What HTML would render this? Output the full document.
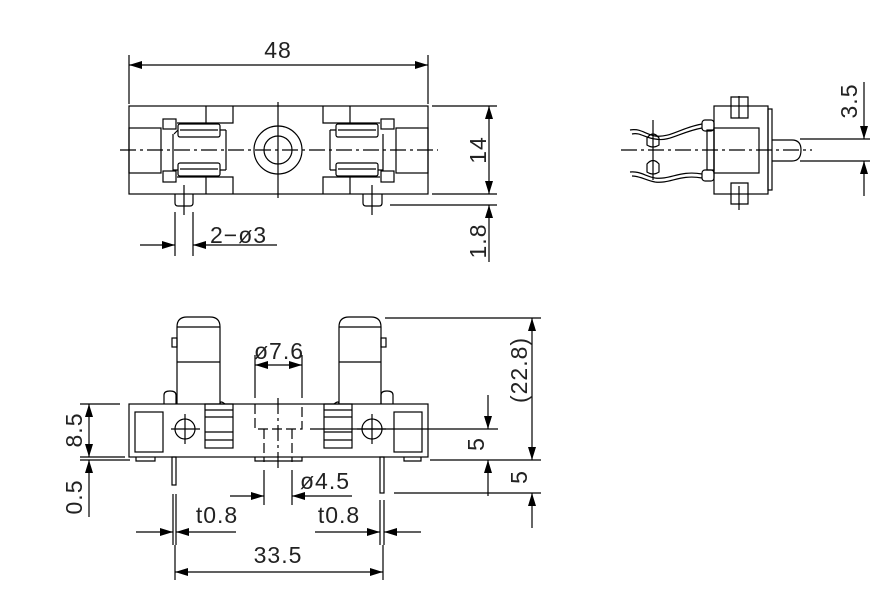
<!DOCTYPE html>
<html><head><meta charset="utf-8"><style>
html,body{margin:0;padding:0;background:#fff;}
svg{display:block;}
text{font-family:"Liberation Sans",sans-serif;font-size:23px;fill:#222;font-weight:normal;letter-spacing:1px;}
</style></head><body>
<svg width="883" height="592" viewBox="0 0 883 592" xmlns="http://www.w3.org/2000/svg">
<defs>
<marker id="a" viewBox="0 0 13 8" refX="13" refY="4" markerWidth="13" markerHeight="8" markerUnits="userSpaceOnUse" orient="auto-start-reverse"><path d="M0,0L13,4L0,8z" fill="#000"/></marker>
</defs>
<g fill="none" stroke="#000" stroke-width="1.2">
<rect x="129" y="106" width="299" height="88"/>
<rect x="129" y="128" width="32" height="45"/>
<rect x="396" y="128" width="32" height="45"/>
<rect x="163" y="119" width="13" height="10"/><rect x="163" y="171" width="13" height="11"/>
<rect x="381" y="119" width="13" height="10"/><rect x="381" y="171" width="13" height="11"/>
<path d="M206,106V123H233V106M206,194V177H233V194M206,123H177M206,177H177"/>
<path d="M323,106V123H350V106M323,194V177H350V194M350,123H380M350,177H380"/>
<rect x="178" y="124" width="42" height="13" rx="2"/><line x1="180" y1="130" x2="218" y2="130"/>
<rect x="178" y="163" width="42" height="13" rx="2"/><line x1="180" y1="169" x2="218" y2="169"/>
<rect x="336" y="124" width="42" height="13" rx="2"/><line x1="338" y1="130" x2="376" y2="130"/>
<rect x="336" y="163" width="42" height="13" rx="2"/><line x1="338" y1="169" x2="376" y2="169"/>
<path d="M173,134V170H178M226,130V170M220,130H226M220,170H226M178,130L174,134"/>
<path d="M383,134V170H378M330,130V170M336,130H330M336,170H330"/>
<circle cx="278" cy="150" r="24"/><circle cx="278" cy="150" r="14"/>
<path d="M175,194V203Q175,206 178,206H190Q193,206 193,203V194"/>
<path d="M363,194V203Q363,206 366,206H379Q382,206 382,203V194"/>
<line x1="184" y1="185" x2="184" y2="215"/><line x1="372" y1="185" x2="372" y2="215"/>
<line x1="120" y1="150" x2="438" y2="150" stroke-dasharray="16,4,3,4"/>
<line x1="278" y1="102" x2="278" y2="198"/>
<line x1="129" y1="55" x2="129" y2="104"/><line x1="428" y1="55" x2="428" y2="104"/>
<line x1="129" y1="65" x2="428" y2="65" marker-start="url(#a)" marker-end="url(#a)"/>
<line x1="432" y1="106" x2="497" y2="106"/><line x1="432" y1="194" x2="497" y2="194"/>
<line x1="390" y1="205" x2="497" y2="205"/>
<line x1="489" y1="106" x2="489" y2="194" marker-start="url(#a)" marker-end="url(#a)"/>
<line x1="489" y1="262" x2="489" y2="205" marker-end="url(#a)"/>
<line x1="175" y1="212" x2="175" y2="256"/><line x1="193" y1="212" x2="193" y2="256"/>
<line x1="140" y1="245" x2="175" y2="245" marker-end="url(#a)"/>
<line x1="277" y1="245" x2="193" y2="245" marker-end="url(#a)"/>
<rect x="714" y="106" width="54" height="88"/>
<rect x="714" y="128" width="45" height="45"/>
<rect x="768" y="109" width="4" height="81"/>
<rect x="707" y="130" width="7" height="40"/>
<path d="M731,106V97H748V106M739,96V118M731,106V118H748V106"/>
<path d="M731,194V204H748V194M739,186V210M731,194V183H748V194"/>
<path d="M772,140H792Q801,140 801,150Q801,161 792,161H772"/>
<rect x="702" y="120" width="12" height="11" rx="3"/>
<rect x="702" y="170" width="12" height="11" rx="3"/>
<path d="M702,124C680,128 670,138 655,136C645,134 640,128 630,130M702,128C680,132 670,142 655,139C645,138 640,132 632,134"/>
<path d="M702,174C680,170 670,180 655,178C645,176 640,171 630,172M702,178C680,174 670,184 655,182C645,180 640,176 632,176"/>
<path d="M647,138Q653,130 659,138V145Q653,149 647,145Z"/>
<path d="M647,164Q653,157 659,164V172Q653,176 647,172Z"/>
<line x1="653" y1="120" x2="653" y2="180"/>
<line x1="621" y1="150" x2="812" y2="150" stroke-dasharray="16,4,3,4"/>
<line x1="800" y1="139" x2="870" y2="139"/><line x1="800" y1="161" x2="870" y2="161"/>
<line x1="864" y1="82" x2="864" y2="139" marker-end="url(#a)"/>
<line x1="864" y1="196" x2="864" y2="161" marker-end="url(#a)"/>
<rect x="129" y="404" width="299" height="53"/>
<rect x="135" y="412" width="28" height="40"/>
<rect x="394" y="412" width="28" height="40"/>
<circle cx="185" cy="429" r="10"/><path d="M171,429H200M185,414V444"/>
<circle cx="372" cy="429" r="10"/><path d="M357,429H386M372,414V444"/>
<rect x="205" y="404" width="28" height="44"/><path d="M205,410H233M205,417H233M205,432H233M205,440H233"/>
<rect x="324" y="404" width="28" height="44"/><path d="M324,410H352M324,417H352M324,432H352M324,440H352"/>
<path d="M177,404V327Q177,317 187,317H210Q220,317 220,327V404M177,327H220M177,362H220"/>
<path d="M339,404V327Q339,317 349,317H371Q381,317 381,327V404M339,327H381M339,362H381"/>
<rect x="172" y="338" width="5" height="9"/><rect x="381" y="338" width="5" height="9"/>
<path d="M164,404V395Q164,391 170,391Q176,391 176,395V404"/>
<path d="M381,404V395Q381,391 387,391Q393,391 393,395V404"/>
<path d="M220,404Q220,400 225,404M339,404Q339,400 334,404"/>
<g stroke-dasharray="10,4"><path d="M255,404V429H302V404M264,429V462M292,429V462"/></g>
<line x1="278" y1="398" x2="278" y2="468" stroke-dasharray="16,4,3,4"/>
<path d="M136,457V461H155V457M255,457V461H302V457M404,457V461H421V457"/>
<rect x="172" y="457" width="4" height="28"/><rect x="380" y="457" width="4" height="36"/>
<line x1="310" y1="429" x2="498" y2="429"/>
<line x1="255" y1="355" x2="255" y2="398"/><line x1="302" y1="355" x2="302" y2="398"/>
<line x1="255" y1="365" x2="302" y2="365" marker-start="url(#a)" marker-end="url(#a)"/>
<line x1="264" y1="470" x2="264" y2="505"/><line x1="292" y1="470" x2="292" y2="505"/>
<line x1="230" y1="496" x2="264" y2="496" marker-end="url(#a)"/>
<line x1="352" y1="496" x2="292" y2="496" marker-end="url(#a)"/>
<line x1="80" y1="404" x2="120" y2="404"/><line x1="80" y1="457" x2="125" y2="457"/><line x1="80" y1="460" x2="130" y2="460"/>
<line x1="89" y1="404" x2="89" y2="457" marker-start="url(#a)" marker-end="url(#a)"/>
<line x1="89" y1="517" x2="89" y2="460" marker-end="url(#a)"/>
<line x1="173" y1="494" x2="173" y2="545"/><line x1="176" y1="494" x2="176" y2="545"/>
<line x1="136" y1="532" x2="173" y2="532" marker-end="url(#a)"/>
<line x1="236" y1="532" x2="176" y2="532" marker-end="url(#a)"/>
<line x1="380" y1="500" x2="380" y2="545"/><line x1="384" y1="500" x2="384" y2="545"/>
<line x1="315" y1="532" x2="380" y2="532" marker-end="url(#a)"/>
<line x1="421" y1="532" x2="384" y2="532" marker-end="url(#a)"/>
<line x1="175" y1="572" x2="383" y2="572" marker-start="url(#a)" marker-end="url(#a)"/>
<line x1="175" y1="545" x2="175" y2="580"/><line x1="383" y1="545" x2="383" y2="580"/>
<line x1="385" y1="318" x2="541" y2="318"/><line x1="430" y1="460" x2="541" y2="460"/><line x1="394" y1="493" x2="541" y2="493"/>
<line x1="532" y1="318" x2="532" y2="460" marker-start="url(#a)" marker-end="url(#a)"/>
<line x1="532" y1="528" x2="532" y2="493" marker-end="url(#a)"/>
<line x1="488" y1="395" x2="488" y2="429" marker-end="url(#a)"/>
<line x1="488" y1="496" x2="488" y2="460" marker-end="url(#a)"/>
</g>
<text x="278" y="58" text-anchor="middle">48</text>
<text transform="translate(486,150) rotate(-90)" text-anchor="middle">14</text>
<text transform="translate(486,241) rotate(-90)" text-anchor="middle">1.8</text>
<text x="210" y="243">2−ø3</text>
<text transform="translate(857,101) rotate(-90)" text-anchor="middle">3.5</text>
<text x="279" y="359" text-anchor="middle">ø7.6</text>
<text x="300" y="489">ø4.5</text>
<text transform="translate(82,430) rotate(-90)" text-anchor="middle">8.5</text>
<text transform="translate(82,497) rotate(-90)" text-anchor="middle">0.5</text>
<text x="217" y="523" text-anchor="middle">t0.8</text>
<text x="339" y="523" text-anchor="middle">t0.8</text>
<text x="278" y="563" text-anchor="middle">33.5</text>
<text transform="translate(527,370) rotate(-90)" text-anchor="middle">(22.8)</text>
<text transform="translate(484,444) rotate(-90)" text-anchor="middle">5</text>
<text transform="translate(527,477) rotate(-90)" text-anchor="middle">5</text>
</svg>
</body></html>
